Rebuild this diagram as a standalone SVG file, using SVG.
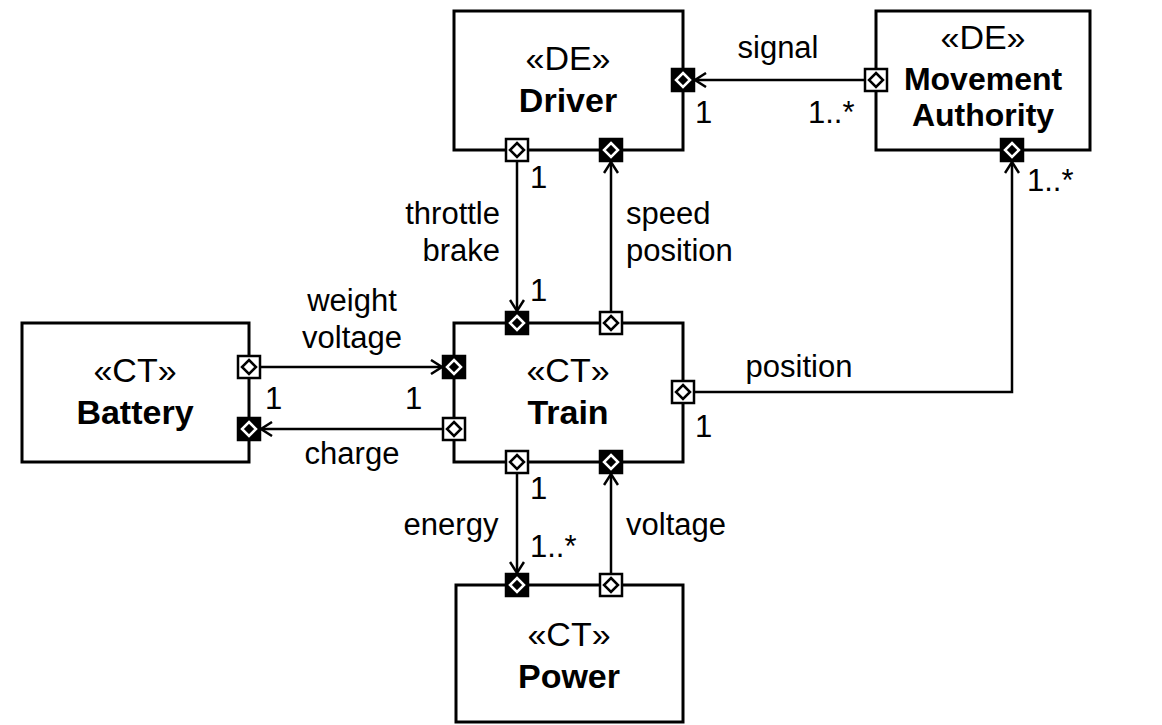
<svg xmlns="http://www.w3.org/2000/svg" width="1162" height="725" viewBox="0 0 1162 725">
<style>
.box{fill:#fff;stroke:#000;stroke-width:3}
.st{font-family:"Liberation Sans",Arial,sans-serif;font-size:34px;text-anchor:middle}
.nm{font-family:"Liberation Sans",Arial,sans-serif;font-size:34px;font-weight:bold;text-anchor:middle}
.nm2{font-size:32px}
.lb{font-family:"Liberation Sans",Arial,sans-serif;font-size:31px}
.c{text-anchor:middle}
.e{text-anchor:end}
.pout{fill:#fff;stroke:#000;stroke-width:2.5}
.pin{fill:#000;stroke:#000;stroke-width:2.5}
.dout{fill:#fff;stroke:#000;stroke-width:2.5}
.din{fill:#000;stroke:#fff;stroke-width:2.5}
.ln{fill:none;stroke:#000;stroke-width:2.5}
</style>
<defs>
<marker id="arr" markerWidth="16" markerHeight="16" refX="13" refY="8" orient="auto" markerUnits="userSpaceOnUse">
<path d="M2,1 L13,8 L2,15" fill="none" stroke="#000" stroke-width="2.5"/>
</marker>
<g id="po"><rect x="-11" y="-11" width="22" height="22" class="pout"/><path d="M0,-7 L7,0 L0,7 L-7,0 Z" class="dout"/></g>
<g id="pi"><rect x="-11" y="-11" width="22" height="22" class="pin"/><path d="M0,-7 L7,0 L0,7 L-7,0 Z" class="din"/></g>
</defs>
<rect width="1162" height="725" fill="#fff"/>

<g id="connectors">
<line x1="865" y1="80" x2="695" y2="80" class="ln" marker-end="url(#arr)"/>
<line x1="517" y1="161" x2="517" y2="311" class="ln" marker-end="url(#arr)"/>
<line x1="611" y1="312" x2="611" y2="162" class="ln" marker-end="url(#arr)"/>
<line x1="260" y1="367" x2="442" y2="367" class="ln" marker-end="url(#arr)"/>
<line x1="443" y1="429" x2="261" y2="429" class="ln" marker-end="url(#arr)"/>
<polyline points="694,392 1012,392 1012,162" class="ln" marker-end="url(#arr)"/>
<line x1="517" y1="473" x2="517" y2="573" class="ln" marker-end="url(#arr)"/>
<line x1="611" y1="574" x2="611" y2="474" class="ln" marker-end="url(#arr)"/>
<g class="lb">
<text x="778" y="58" class="c">signal</text>
<text x="695" y="123">1</text>
<text x="808" y="123">1..*</text>
<text x="1027" y="191">1..*</text>
<text x="530" y="188">1</text>
<text x="500" y="224" class="e">throttle</text>
<text x="500" y="261" class="e">brake</text>
<text x="626" y="224">speed</text>
<text x="626" y="261">position</text>
<text x="530" y="301">1</text>
<text x="352" y="311" class="c">weight</text>
<text x="352" y="348" class="c">voltage</text>
<text x="265" y="409">1</text>
<text x="405" y="409">1</text>
<text x="352" y="464" class="c">charge</text>
<text x="799" y="377" class="c">position</text>
<text x="695" y="437">1</text>
<text x="530" y="499">1</text>
<text x="451" y="535" class="c">energy</text>
<text x="676" y="535" class="c">voltage</text>
<text x="530" y="557">1..*</text>
</g>
</g>

<g id="driver">
<rect x="454" y="11" width="229" height="139" class="box"/>
<text x="568" y="70" class="st">«DE»</text>
<text x="568" y="112" class="nm">Driver</text>
<use href="#pi" x="683" y="80"/>
<use href="#po" x="517" y="150"/>
<use href="#pi" x="611" y="150"/>
</g>

<g id="movement-authority">
<rect x="876" y="11" width="214" height="139" class="box"/>
<text x="983" y="49" class="st">«DE»</text>
<text x="983" y="90" class="nm nm2">Movement</text>
<text x="983" y="126" class="nm nm2">Authority</text>
<use href="#po" x="876" y="80"/>
<use href="#pi" x="1012" y="150"/>
</g>

<g id="battery">
<rect x="22" y="323" width="227" height="139" class="box"/>
<text x="135" y="382" class="st">«CT»</text>
<text x="135" y="424" class="nm">Battery</text>
<use href="#po" x="249" y="367"/>
<use href="#pi" x="249" y="429"/>
</g>

<g id="train">
<rect x="454" y="323" width="229" height="139" class="box"/>
<text x="568" y="382" class="st">«CT»</text>
<text x="568" y="424" class="nm">Train</text>
<use href="#pi" x="517" y="323"/>
<use href="#po" x="611" y="323"/>
<use href="#pi" x="454" y="367"/>
<use href="#po" x="454" y="429"/>
<use href="#po" x="683" y="392"/>
<use href="#po" x="517" y="462"/>
<use href="#pi" x="611" y="462"/>
</g>

<g id="power">
<rect x="456" y="585" width="227" height="137" class="box"/>
<text x="569" y="646" class="st">«CT»</text>
<text x="569" y="688" class="nm">Power</text>
<use href="#pi" x="517" y="585"/>
<use href="#po" x="611" y="585"/>
</g>
</svg>
